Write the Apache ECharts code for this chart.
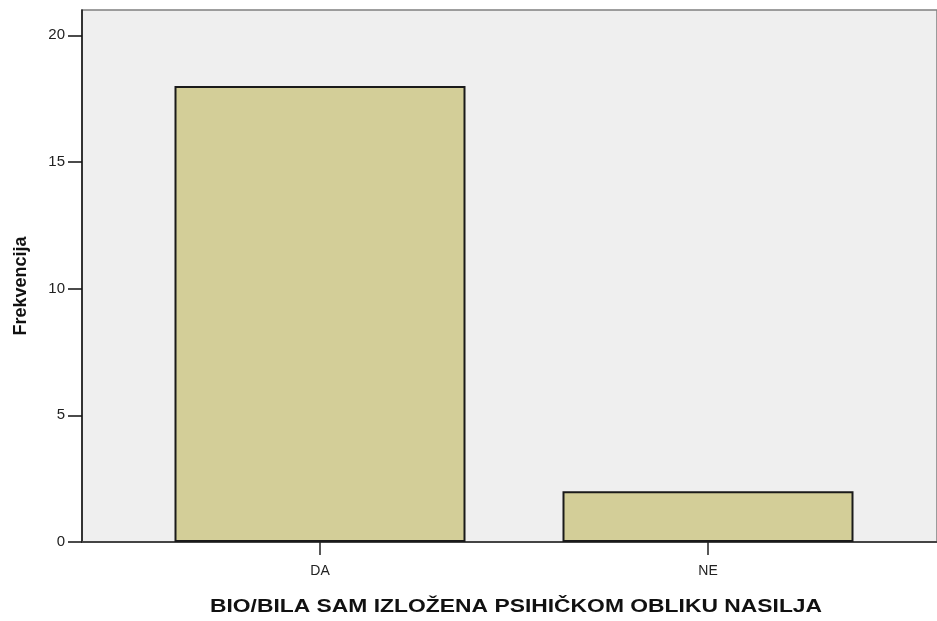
<!DOCTYPE html>
<html><head><meta charset="utf-8">
<script src="https://cdn.jsdelivr.net/npm/echarts@6/dist/echarts.min.js"></script>
<style>html,body{margin:0;padding:0;background:#fff}#c{width:937px;height:621px}</style>
</head><body><div id="c"></div>
<script>
var categories = ['DA', 'NE'];
var frequencies = [18, 2];
var yTicks = [0, 5, 10, 15, 20];
var xTitle = 'BIO/BILA SAM IZLOŽENA PSIHIČKOM OBLIKU NASILJA';
var yTitle = 'Frekvencija';

var chart = echarts.init(document.getElementById('c'));
var font = 'Liberation Sans, Arial, sans-serif';
chart.setOption({
  animation: false,
  grid: [
    {left: 82, right: -3, top: 10, bottom: 79, show: true, backgroundColor: '#efefef', borderColor: '#808080', borderWidth: 1.5},
    {left: 126, right: 35, top: 10, bottom: 79}
  ],
  graphic: [
    {type: 'text', x: 516, y: 607, scaleX: 1.27,
     style: {text: xTitle, textAlign: 'center', textVerticalAlign: 'middle',
       font: 'bold 18px Liberation Sans, Arial, sans-serif', fill: '#111'}},
    {type: 'text', x: 21, y: 286, rotation: Math.PI / 2,
     style: {text: yTitle, textAlign: 'center', textVerticalAlign: 'middle',
       font: 'bold 18px Liberation Sans, Arial, sans-serif', fill: '#111'}}
  ],
  xAxis: [
    {gridIndex: 0, type: 'value', min: 0, max: 1, show: true, splitLine: {show: false}, axisTick: {show: false}, axisLabel: {show: false},
     axisLine: {show: true, lineStyle: {color: '#444', width: 2}}},
    {gridIndex: 1, type: 'category', data: categories, boundaryGap: true,
     axisLine: {show: false},
     axisTick: {show: true, alignWithLabel: true, length: 13, lineStyle: {color: '#222', width: 1.5}},
     axisLabel: {margin: 22, fontFamily: font, fontSize: 14, color: '#222'}}
  ],
  yAxis: [
    {gridIndex: 0, type: 'value', min: 0, max: 21, show: false},
    {gridIndex: 1, type: 'value', min: 0, max: 21, interval: 5, offset: 44,
     axisLine: {show: true, lineStyle: {color: '#111', width: 1.5}},
     axisTick: {show: true, length: 14, customValues: yTicks, lineStyle: {color: '#111', width: 1.5}},
     axisLabel: {margin: 17, fontFamily: font, fontSize: 15, color: '#222', customValues: yTicks},
     splitLine: {show: false}}
  ],
  series: [{
    type: 'bar', xAxisIndex: 1, yAxisIndex: 1, data: frequencies, barWidth: '75%',
    itemStyle: {color: '#d3ce98', borderColor: '#1a1a1a', borderWidth: 2}
  }]
});
</script></body></html>
